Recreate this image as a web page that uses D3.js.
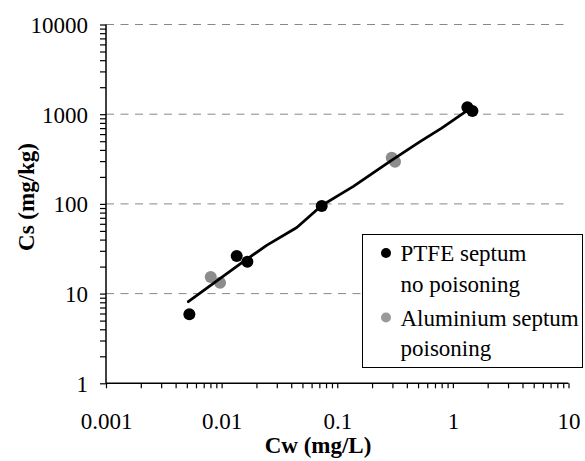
<!DOCTYPE html>
<html>
<head>
<meta charset="utf-8">
<script src="https://cdn.jsdelivr.net/npm/d3@7"></script>
<style>
  html, body { margin: 0; padding: 0; background: #fff; }
  svg { display: block; }
  svg text { font-family: "Liberation Serif", Tinos, "Times New Roman", "DejaVu Serif", serif; fill: #000; }
</style>
</head>
<body>
<svg id="chart" width="585" height="461"></svg>
<script>
// PTFE septum, no poisoning
const ptfeCw = [0.00526, 0.0135, 0.0167, 0.0734, 1.335, 1.476];
const ptfeCs = [5.88, 26.3, 22.7, 94.8, 1194, 1086];
// Aluminium septum, poisoning
const aluCw = [0.00805, 0.00969, 0.296, 0.316];
const aluCs = [15.3, 13.2, 327, 295];
// Model curve
const fitCw = [0.00515, 0.0154, 0.0245, 0.0447, 0.0734, 0.105, 0.138, 0.200, 0.286, 0.520, 0.80, 1.318];
const fitCs = [8.12, 22.7, 34.5, 54.5, 96.0, 127, 157, 218, 298, 494, 700, 1090];
// Axes
const xMajor = [0.001, 0.01, 0.1, 1, 10];
const yMajor = [1, 10, 100, 1000, 10000];
const xLabels = ["0.001", "0.01", "0.1", "1", "10"];
const yLabels = ["1", "10", "100", "1000", "10000"];
const legendLabels = [["PTFE septum", "no poisoning"], ["Aluminium septum", "poisoning"]];
const xTitle = "Cw (mg/L)";
const yTitle = "Cs (mg/kg)";

const FONT = '"Liberation Serif", Tinos, "Times New Roman", "DejaVu Serif", serif';
const svg = d3.select("#chart");
const plotLeft = 106, plotRight = 568.5, plotTop = 24.5, plotBottom = 383.3;
const x = d3.scaleLog().domain([0.001, 10]).range([plotLeft, plotRight]);
const y = d3.scaleLog().domain([1, 10000]).range([plotBottom, plotTop]);
const fontSize = 23;

function minorTicks(majors) {
  const out = [];
  for (let i = 0; i < majors.length - 1; i++)
    for (let k = 1; k <= 9; k++) out.push(majors[i] * k);
  out.push(majors[majors.length - 1]);
  return out;
}

// Dashed gridlines
svg.append("g").selectAll("line")
  .data(yMajor.slice(1))
  .join("line")
  .attr("x1", plotLeft).attr("x2", plotRight)
  .attr("y1", d => y(d)).attr("y2", d => y(d))
  .attr("stroke", "#888").attr("stroke-width", 1)
  .attr("stroke-dasharray", "8,6.5");

// X axis
const xAxis = d3.axisBottom(x)
  .tickValues(minorTicks(xMajor))
  .tickSize(5)
  .tickFormat(d => { const i = xMajor.indexOf(d); return i >= 0 ? xLabels[i] : ""; });
const gx = svg.append("g").attr("transform", `translate(0,${plotBottom})`).call(xAxis)
  .attr("font-family", FONT).attr("font-size", fontSize);
gx.select(".domain").attr("stroke", "#000").attr("stroke-width", 1.5).attr("d", `M${plotLeft},0H${plotRight}`);
gx.selectAll(".tick line").attr("stroke", "#000").attr("stroke-width", 1.2);
gx.selectAll(".tick text").attr("y", 46).attr("dy", 0);

// Y axis
const yAxis = d3.axisLeft(y)
  .tickValues(minorTicks(yMajor))
  .tickSize(6)
  .tickFormat(d => { const i = yMajor.indexOf(d); return i >= 0 ? yLabels[i] : ""; });
const gy = svg.append("g").attr("transform", `translate(${plotLeft},0)`).call(yAxis)
  .attr("font-family", FONT).attr("font-size", fontSize);
gy.select(".domain").attr("stroke", "#000").attr("stroke-width", 1.5).attr("d", `M0,${plotBottom}V${plotTop}`);
gy.selectAll(".tick line").attr("stroke", "#000").attr("stroke-width", 1.2);
gy.selectAll(".tick text").attr("x", -18).attr("dy", "0.34em");

// Data points
const ptfe = ptfeCw.map((c, i) => [c, ptfeCs[i]]);
const alu = aluCw.map((c, i) => [c, aluCs[i]]);
svg.append("g").selectAll("circle").data(ptfe).join("circle")
  .attr("cx", d => x(d[0])).attr("cy", d => y(d[1])).attr("r", 6).attr("fill", "#000");
svg.append("g").selectAll("circle").data(alu).join("circle")
  .attr("cx", d => x(d[0])).attr("cy", d => y(d[1])).attr("r", 6).attr("fill", "#8c8c8c");

// Model line
const fit = fitCw.map((c, i) => [c, fitCs[i]]);
svg.append("path").datum(fit)
  .attr("fill", "none").attr("stroke", "#000").attr("stroke-width", 2.8)
  .attr("stroke-linejoin", "round").attr("stroke-linecap", "round")
  .attr("d", d3.line().x(d => x(d[0])).y(d => y(d[1])));

// Legend
const lg = svg.append("g");
lg.append("rect").attr("x", 362.5).attr("y", 234.5).attr("width", 220).attr("height", 133)
  .attr("fill", "#fff").attr("stroke", "#000").attr("stroke-width", 1);
const legendColors = ["#000", "#9a9a9a"];
const rowBase = [[261, 292], [325.5, 356]];
legendLabels.forEach((lines, i) => {
  lg.append("circle").attr("cx", 386).attr("cy", rowBase[i][0] - 8).attr("r", 5).attr("fill", legendColors[i]);
  lines.forEach((t, j) => {
    lg.append("text").attr("x", 400.5).attr("y", rowBase[i][j])
      .style("font-size", fontSize + "px").text(t);
  });
});

// Axis titles
svg.append("text").attr("x", 318).attr("y", 453).attr("text-anchor", "middle")
  .style("font-size", fontSize + "px").style("font-weight", "bold").text(xTitle);
svg.append("text").attr("transform", "translate(34,197) rotate(-90)").attr("text-anchor", "middle")
  .style("font-size", fontSize + "px").style("font-weight", "bold").text(yTitle);
</script>
</body>
</html>
